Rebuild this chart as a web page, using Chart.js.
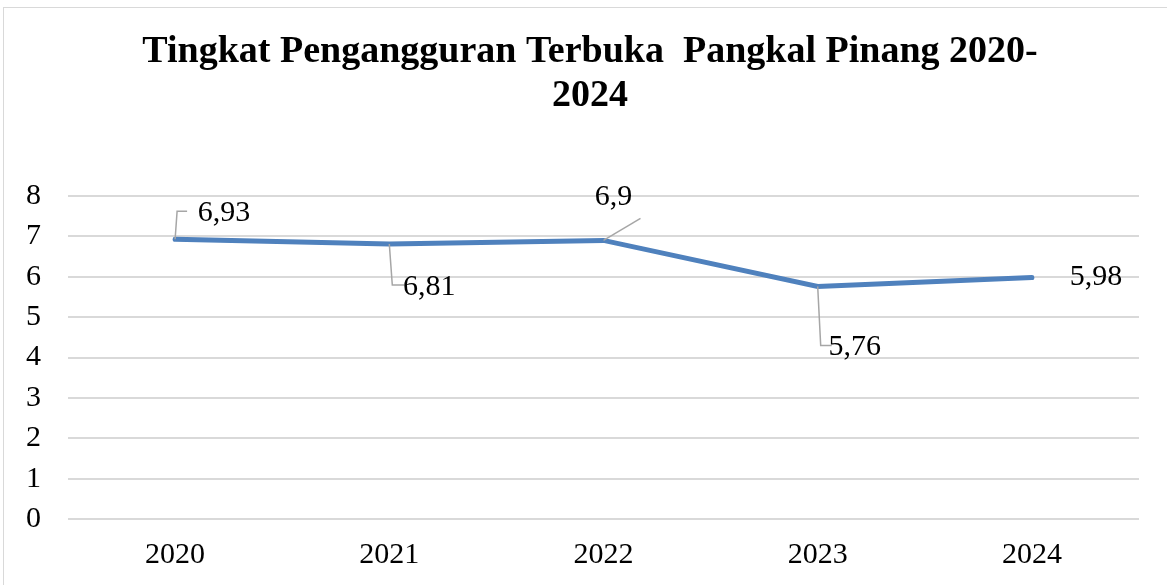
<!DOCTYPE html>
<html>
<head>
<meta charset="utf-8">
<script src="https://cdn.jsdelivr.net/npm/chart.js@4"></script>
<style>
  html, body { margin: 0; padding: 0; background: #fff; overflow: hidden; }
  #wrap { position: relative; width: 1167px; height: 585px; }
  #frame { position: absolute; left: 3px; top: 7px; width: 1200px; height: 600px; border: 1px solid #d9d9d9; pointer-events: none; }
</style>
</head>
<body>
<div id="wrap">
  <canvas id="lineChart" width="1167" height="585"></canvas>
  <div id="frame"></div>
</div>
<script>
const tahun = ['2020', '2021', '2022', '2023', '2024'];
const tpt = [6.93, 6.81, 6.9, 5.76, 5.98];
const judul = ['Tingkat Pengangguran Terbuka  Pangkal Pinang 2020-', '2024'];

// posisi label data relatif terhadap titik (gaya ala Excel dengan garis penunjuk)
const labelStyle = [
    { dx: 49, dy: -26, leader: [[0, 0], [2, -28], [12, -28]] },
    { dx: 40, dy: 43, leader: [[0, 0], [3, 41], [15, 41]] },
    { dx: 10, dy: -43, leader: [[0, 0], [37, -22]] },
    { dx: 37, dy: 61, leader: [[0, 0], [3, 59], [14, 59]] },
    { dx: 64, dy: 0, leader: null }
];

const dataLabels = {
    id: 'dataLabels',
    afterLayout(chart) {
        // judul sedikit bergeser ke kanan seperti pada gambar asli
        if (chart.titleBlock) chart.titleBlock.left += 41;
    },
    afterDatasetsDraw(chart) {
        const ctx = chart.ctx;
        const meta = chart.getDatasetMeta(0);
        ctx.save();
        meta.data.forEach((pt, i) => {
            const s = labelStyle[i];
            if (s.leader) {
                ctx.beginPath();
                ctx.strokeStyle = '#a6a6a6';
                ctx.lineWidth = 1.5;
                s.leader.forEach((p, j) => {
                    if (j === 0) ctx.moveTo(pt.x + p[0], pt.y + p[1]);
                    else ctx.lineTo(pt.x + p[0], pt.y + p[1]);
                });
                ctx.stroke();
            }
            ctx.fillStyle = '#000';
            ctx.font = '30px "Liberation Serif"';
            ctx.textAlign = 'center';
            ctx.textBaseline = 'middle';
            ctx.fillText(String(tpt[i]).replace('.', ','), pt.x + s.dx, pt.y + s.dy);
        });
        ctx.restore();
    }
};

const ctx = document.getElementById('lineChart').getContext('2d');
const lineChart = new Chart(ctx, {
    type: 'line',
    data: {
        labels: tahun,
        datasets: [{
            data: tpt,
            borderColor: '#4f81bd',
            borderWidth: 5,
            pointRadius: 0,
            tension: 0,
            borderCapStyle: 'round'
        }]
    },
    options: {
        responsive: false,
        animation: false,
        layout: { padding: { left: 0, right: 28, top: 0, bottom: 17 } },
        plugins: {
            legend: { display: false },
            tooltip: { enabled: false },
            title: {
                display: true,
                text: judul,
                color: '#000',
                font: { family: 'Liberation Serif', size: 38, weight: 'bold', lineHeight: 1.158 },
                padding: { top: 30, bottom: 78 }
            }
        },
        scales: {
            x: {
                offset: true,
                afterFit(scale) { scale.height = 49; },
                grid: { display: false, drawTicks: false },
                border: { display: false },
                ticks: { autoSkip: false, maxRotation: 0, color: '#000', padding: 18, font: { family: 'Liberation Serif', size: 30 } }
            },
            y: {
                min: 0,
                max: 8,
                afterFit(scale) { scale.width = 68; },
                grid: { color: '#d9d9d9', lineWidth: 2, drawTicks: false },
                border: { display: false },
                ticks: { autoSkip: false, stepSize: 1, color: '#000', padding: 27, font: { family: 'Liberation Serif', size: 30 } }
            }
        }
    },
    plugins: [dataLabels]
});
</script>
</body>
</html>
